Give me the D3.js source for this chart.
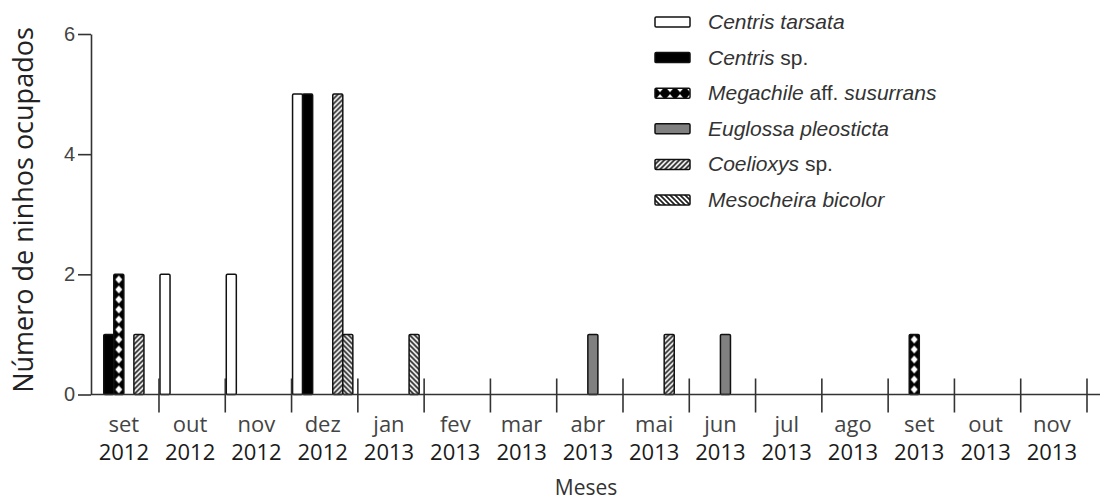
<!DOCTYPE html>
<html>
<head>
<meta charset="utf-8">
<script src="https://cdn.jsdelivr.net/npm/d3@7/dist/d3.min.js"></script>
<style>
  html, body { margin: 0; padding: 0; background: #fff; }
  svg { display: block; }
</style>
</head>
<body>
<svg id="chart" width="1107" height="502"></svg>
<script>
// Occupied trap-nests per month, Sep 2012 – Nov 2013
const months = ["set", "out", "nov", "dez", "jan", "fev", "mar", "abr", "mai", "jun", "jul", "ago", "set", "out", "nov"];
const years  = ["2012", "2012", "2012", "2012", "2013", "2013", "2013", "2013", "2013", "2013", "2013", "2013", "2013", "2013", "2013"];

const species = ["Centris tarsata", "Centris sp.", "Megachile aff. susurrans", "Euglossa pleosticta", "Coelioxys sp.", "Mesocheira bicolor"];

const centrisTarsata = [0, 2, 2, 5, 0, 0, 0, 0, 0, 0, 0, 0, 0, 0, 0];
const centrisSp      = [1, 0, 0, 5, 0, 0, 0, 0, 0, 0, 0, 0, 0, 0, 0];
const megachile      = [2, 0, 0, 0, 0, 0, 0, 0, 0, 0, 0, 0, 1, 0, 0];
const euglossa       = [0, 0, 0, 0, 0, 0, 0, 1, 0, 1, 0, 0, 0, 0, 0];
const coelioxys      = [1, 0, 0, 5, 0, 0, 0, 0, 1, 0, 0, 0, 0, 0, 0];
const mesocheira     = [0, 0, 0, 1, 1, 0, 0, 0, 0, 0, 0, 0, 0, 0, 0];

const yTicks = [0, 2, 4, 6];

const seriesValues = [centrisTarsata, centrisSp, megachile, euglossa, coelioxys, mesocheira];
const fills = ["#ffffff", "#000000", "url(#pat-cross)", "#808080", "url(#pat-fwd)", "url(#pat-back)"];

const svg = d3.select("#chart");

// ---- fill patterns ----
const defs = svg.append("defs");

// black lattice with white eyes
const cross = defs.append("pattern").attr("id", "pat-cross")
  .attr("patternUnits", "userSpaceOnUse").attr("width", 10).attr("height", 10);
cross.append("rect").attr("width", 10).attr("height", 10).attr("fill", "#000");
cross.append("path").attr("d", "M5,1 L8.5,5 L5,9 L1.5,5 Z").attr("fill", "#fff");

// forward diagonal hatching
const fwd = defs.append("pattern").attr("id", "pat-fwd")
  .attr("patternUnits", "userSpaceOnUse").attr("width", 5).attr("height", 5);
fwd.append("rect").attr("width", 5).attr("height", 5).attr("fill", "#fff");
fwd.append("path").attr("d", "M-1,6 L6,-1 M-1,1 L1,-1 M4,6 L6,4")
  .attr("stroke", "#222").attr("stroke-width", 1.7);

// backward diagonal hatching
const back = defs.append("pattern").attr("id", "pat-back")
  .attr("patternUnits", "userSpaceOnUse").attr("width", 5).attr("height", 5);
back.append("rect").attr("width", 5).attr("height", 5).attr("fill", "#fff");
back.append("path").attr("d", "M-1,-1 L6,6 M4,-1 L6,1 M-1,4 L1,6")
  .attr("stroke", "#222").attr("stroke-width", 1.7);

// ---- scales ----
const x = d3.scaleBand().domain(d3.range(months.length)).range([92.7, 1087]).padding(0);
const inner = d3.scaleBand().domain(d3.range(species.length)).range([1, x.bandwidth() - 5]).padding(0);
const y = d3.scaleLinear().domain([0, 6]).range([394.5, 34]);

const axisColor = "#333";

// ---- bars ----
const barData = [];
seriesValues.forEach((vals, s) => {
  vals.forEach((v, m) => { if (v > 0) barData.push({ s, m, v }); });
});

const bars = svg.append("g").attr("class", "bars")
  .selectAll("g").data(barData).join("g")
  .attr("transform", d => `translate(${x(d.m) + inner(d.s)},${y(0)})`);

bars.append("rect")
  .attr("x", 0)
  .attr("y", d => y(d.v) - y(0))
  .attr("width", inner.bandwidth())
  .attr("height", d => y(0) - y(d.v))
  .attr("rx", 1.2)
  .attr("fill", d => fills[d.s])
  .attr("stroke", "#111")
  .attr("stroke-width", 1.5);

// ---- y axis ----
const yAxis = svg.append("g")
  .attr("transform", "translate(91,0)")
  .call(d3.axisLeft(y).tickValues(yTicks).tickFormat(d3.format("d"))
    .tickSize(13).tickSizeOuter(0).tickPadding(3));
yAxis.select(".domain").attr("stroke", axisColor).attr("stroke-width", 1.6);
yAxis.selectAll(".tick line").attr("stroke", axisColor).attr("stroke-width", 1.6);
yAxis.selectAll(".tick text")
  .attr("font-family", "'Liberation Sans', Arial, sans-serif")
  .attr("font-size", 20)
  .attr("fill", "#444");

// ---- x axis: baseline and month separators ----
const xAxis = svg.append("g").attr("class", "x-axis");
xAxis.append("line")
  .attr("x1", 91).attr("x2", 1100)
  .attr("y1", y(0)).attr("y2", y(0))
  .attr("stroke", axisColor).attr("stroke-width", 1.6);

xAxis.selectAll("line.sep")
  .data(d3.range(1, months.length + 1))
  .join("line").attr("class", "sep")
  .attr("x1", i => x.range()[0] + i * x.step())
  .attr("x2", i => x.range()[0] + i * x.step())
  .attr("y1", y(0) - 16).attr("y2", y(0) + 18)
  .attr("stroke", axisColor).attr("stroke-width", 1.6);

const labelFont = "'Open Sans', 'DejaVu Sans', sans-serif";

xAxis.selectAll("text.month")
  .data(months).join("text").attr("class", "month")
  .attr("x", (d, i) => x(i) + x.bandwidth() / 2 - 2)
  .attr("y", 432)
  .attr("text-anchor", "middle")
  .attr("font-family", labelFont)
  .attr("font-size", 22)
  .attr("fill", "#444")
  .text(d => d);

xAxis.selectAll("text.year")
  .data(years).join("text").attr("class", "year")
  .attr("x", (d, i) => x(i) + x.bandwidth() / 2 - 2)
  .attr("y", 460)
  .attr("text-anchor", "middle")
  .attr("font-family", labelFont)
  .attr("font-size", 22)
  .attr("fill", "#1a1a1a")
  .text(d => d);

// ---- axis titles ----
svg.append("text")
  .attr("x", 586).attr("y", 495)
  .attr("text-anchor", "middle")
  .attr("font-family", labelFont)
  .attr("font-size", 21)
  .attr("fill", "#333")
  .text("Meses");

svg.append("text")
  .attr("transform", "translate(33,210) rotate(-90)")
  .attr("text-anchor", "middle")
  .attr("font-family", labelFont)
  .attr("font-size", 27)
  .attr("fill", "#222")
  .text("Número de ninhos ocupados");

// ---- legend ----
const legend = svg.append("g").attr("class", "legend")
  .selectAll("g").data(species).join("g")
  .attr("transform", (d, i) => `translate(655,${22 + i * 35.6})`);

legend.append("rect")
  .attr("x", 0).attr("y", -5)
  .attr("width", 35).attr("height", 10)
  .attr("rx", 1.2)
  .attr("fill", (d, i) => fills[i])
  .attr("stroke", "#111")
  .attr("stroke-width", 1.5);

const legendText = legend.append("text")
  .attr("x", 53).attr("y", 7)
  .attr("font-family", "'Liberation Sans', Arial, sans-serif")
  .attr("font-size", 21)
  .attr("font-style", "italic")
  .attr("fill", "#333");

// genus and epithet in italics, qualifiers ("sp.", "aff.") upright
legendText.each(function (name) {
  const t = d3.select(this);
  name.split(" ").forEach((word, k) => {
    const upright = word === "sp." || word === "aff.";
    t.append("tspan")
      .attr("font-style", upright ? "normal" : "italic")
      .text((k > 0 ? " " : "") + word);
  });
});
</script>
</body>
</html>
